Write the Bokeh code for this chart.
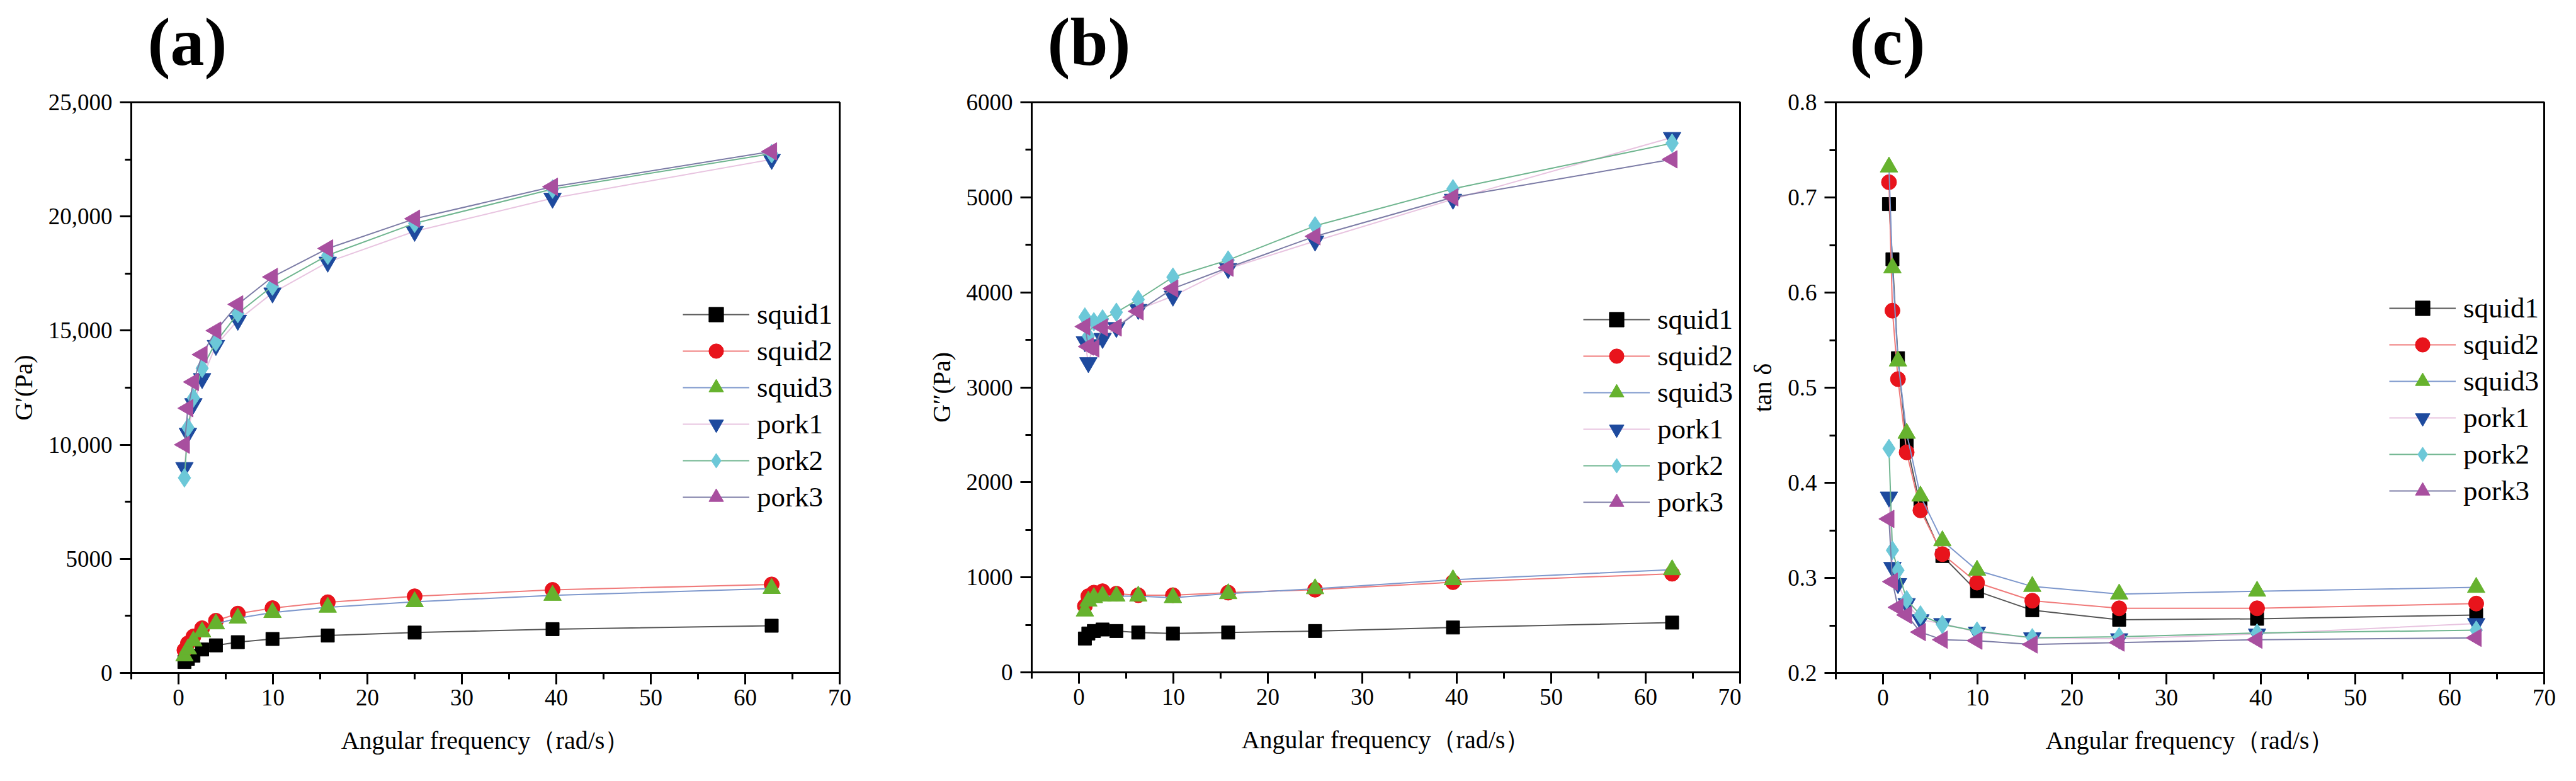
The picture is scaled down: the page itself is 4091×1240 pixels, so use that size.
import numpy as np

from bokeh.plotting import figure
from bokeh.layouts import row, column
from bokeh.embed import file_html
from bokeh.resources import INLINE
from bokeh.core.properties import value
from bokeh.models import Legend, SingleIntervalTicker

# angular frequency (rad/s)
freq = [0.628, 0.995, 1.58, 2.5, 3.96, 6.28, 9.95, 15.8, 25.0, 39.6, 62.8]

series_names = ['squid1', 'squid2', 'squid3', 'pork1', 'pork2', 'pork3']
panel_tags = ['(a)', '(b)', '(c)']

# G' (Pa)
g1_squid1 = [480, 620, 760, 1030, 1210, 1350, 1490, 1640, 1770, 1920, 2070]
g1_squid2 = [1000, 1300, 1600, 1960, 2290, 2600, 2840, 3100, 3360, 3640, 3880]
g1_squid3 = [750, 1050, 1400, 1800, 2150, 2400, 2650, 2880, 3120, 3400, 3700]
g1_pork1 = [9000, 10500, 11800, 12900, 14350, 15450, 16650, 18000, 19350, 20800, 22500]
g1_pork2 = [8550, 10750, 12050, 13350, 14500, 15750, 16950, 18300, 19700, 21200, 22750]
g1_pork3 = [10000, 11600, 12750, 13950, 15000, 16150, 17350, 18600, 19900, 21300, 22850]

# G'' (Pa)
g2_squid1 = [356, 409, 435, 451, 435, 419, 409, 419, 435, 472, 524]
g2_squid2 = [697, 802, 839, 854, 828, 812, 812, 839, 870, 949, 1038]
g2_squid3 = [645, 750, 786, 802, 802, 802, 786, 828, 880, 975, 1080]
g2_pork1 = [3480, 3260, 3450, 3515, 3630, 3820, 3960, 4250, 4540, 4980, 5630]
g2_pork2 = [3740, 3540, 3690, 3720, 3790, 3925, 4160, 4340, 4700, 5090, 5570]
g2_pork3 = [3640, 3430, 3410, 3630, 3630, 3800, 4040, 4260, 4590, 5000, 5400]

# tan delta
td_squid1 = [0.693, 0.635, 0.531, 0.441, 0.375, 0.323, 0.286, 0.266, 0.256, 0.257, 0.261]
td_squid2 = [0.716, 0.581, 0.509, 0.432, 0.371, 0.325, 0.295, 0.276, 0.268, 0.268, 0.273]
td_squid3 = [0.732, 0.626, 0.528, 0.452, 0.386, 0.339, 0.308, 0.291, 0.283, 0.286, 0.290]
td_pork1 = [0.385, 0.311, 0.294, 0.273, 0.256, 0.252, 0.243, 0.237, 0.236, 0.241, 0.252]
td_pork2 = [0.436, 0.329, 0.308, 0.277, 0.261, 0.251, 0.244, 0.237, 0.238, 0.242, 0.245]
td_pork3 = [0.362, 0.296, 0.269, 0.261, 0.243, 0.235, 0.234, 0.230, 0.232, 0.235, 0.237]

# styles
markers = ['square', 'circle', 'triangle', 'inverted_triangle', 'diamond', 'triangle']
marker_angles = [0, 0, 0, 0, 0, 90]
marker_sizes = [21, 24, 28, 28, 30, 28]
marker_colors = ['#000000', '#e8141c', '#66b22e', '#1e4a9e', '#6cc8d8', '#a84f9f']
line_colors = ['#555555', '#f07a7a', '#7d97cc', '#e8c4e0', '#6fb58f', '#7c7ca6']
FONT = 'Liberation Serif'
ROW_W = 4060
HEADER_H = 130
PLOT_H = 1094


def make_panel(ys, y_range, y_step, y_label, legend_xy,
               border_left, border_right, border_top, frame_h, y_overrides=None):
    p = figure(x_range=(-5, 70), y_range=y_range,
               frame_width=1125, frame_height=frame_h,
               min_border_left=border_left, min_border_right=border_right,
               min_border_top=border_top, min_border_bottom=PLOT_H - border_top - frame_h,
               output_backend='svg', toolbar_location=None)
    p.xgrid.grid_line_color = None
    p.ygrid.grid_line_color = None
    p.outline_line_color = 'black'
    p.outline_line_width = 3
    p.background_fill_color = 'white'
    p.border_fill_color = 'white'

    p.xaxis.ticker = SingleIntervalTicker(interval=10, num_minor_ticks=2)
    p.yaxis.ticker = SingleIntervalTicker(interval=y_step, num_minor_ticks=2)
    if y_overrides:
        p.yaxis.major_label_overrides = y_overrides
    p.xaxis.axis_label = 'Angular frequency（rad/s）'
    p.yaxis.axis_label = y_label
    for ax in (p.xaxis, p.yaxis):
        ax.axis_line_width = 3
        ax.axis_line_color = 'black'
        ax.major_tick_line_width = 3
        ax.minor_tick_line_width = 3
        ax.major_tick_in = 0
        ax.major_tick_out = 18
        ax.minor_tick_in = 0
        ax.minor_tick_out = 10
        ax.major_label_text_font = FONT
        ax.major_label_text_font_size = '37px'
        ax.major_label_text_color = 'black'
        ax.axis_label_text_font = FONT
        ax.axis_label_text_font_size = '40px'
        ax.axis_label_text_font_style = 'normal'
        ax.axis_label_text_color = 'black'
    p.xaxis.major_label_standoff = 8
    p.xaxis.axis_label_standoff = 30
    p.yaxis.major_label_standoff = 12
    p.yaxis.axis_label_standoff = 14

    items = []
    for i, name in enumerate(series_names):
        ln = p.line(freq, ys[i], line_color=line_colors[i], line_width=2)
        sc = p.scatter(freq, ys[i], marker=markers[i], size=marker_sizes[i],
                       angle=marker_angles[i], angle_units='deg',
                       fill_color=marker_colors[i],
                       line_color=marker_colors[i], line_width=1)
        items.append((name, [ln, sc]))

    legend = Legend(items=items, location=legend_xy)
    legend.glyph_width = 106
    legend.glyph_height = 58
    legend.label_height = 58
    legend.spacing = 0
    legend.padding = 0
    legend.margin = 0
    legend.label_standoff = 12
    legend.label_text_font = FONT
    legend.label_text_font_size = '45px'
    legend.label_text_color = 'black'
    legend.border_line_color = None
    legend.background_fill_alpha = 0
    p.add_layout(legend)
    return p


# header strip holding the panel tags (a) (b) (c)
header = figure(width=ROW_W, height=HEADER_H, x_range=(0, ROW_W), y_range=(0, HEADER_H),
                x_axis_location=None, y_axis_location=None, min_border=0,
                output_backend='svg', toolbar_location=None)
header.grid.grid_line_color = None
header.outline_line_color = None
header.text(x=[297, 1729, 2997], y=[64, 64, 65], text=panel_tags,
            text_font=value(FONT), text_font_size='108px', text_font_style='bold',
            text_align='center', text_baseline='middle', text_color='black')

pa = make_panel([g1_squid1, g1_squid2, g1_squid3, g1_pork1, g1_pork2, g1_pork3],
                (0, 25000), 5000, 'G′(Pa)', (876, 250),
                208, 105, 155 - HEADER_H, 906,
                y_overrides={0: '0', 5000: '5000', 10000: '10,000', 15000: '15,000',
                             20000: '20,000', 25000: '25,000'})
pb = make_panel([g2_squid1, g2_squid2, g2_squid3, g2_pork1, g2_pork2, g2_pork3],
                (0, 6000), 1000, 'G″(Pa)', (876, 241),
                200, 2, 162 - HEADER_H, 905)
pc = make_panel([td_squid1, td_squid2, td_squid3, td_pork1, td_pork2, td_pork3],
                (0.2, 0.8), 0.1, 'tan δ', (879, 260),
                150, 20, 156 - HEADER_H, 906)

layout = column(header, row(pa, pb, pc))
open('out.html', 'w').write(file_html(layout, INLINE))
